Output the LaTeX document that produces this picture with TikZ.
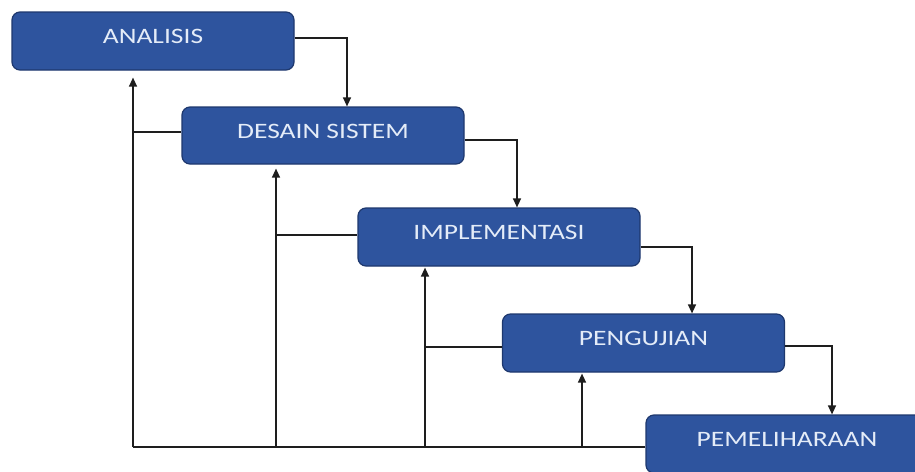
\documentclass[tikz,border=0pt]{standalone}
\usepackage{fontspec}
\newfontfamily\boxfont[FakeStretch=1.25]{Carlito}
\usetikzlibrary{arrows.meta}
\definecolor{boxfill}{RGB}{46,84,158}
\definecolor{boxdraw}{RGB}{30,56,110}
\definecolor{boxtext}{RGB}{228,236,248}
\definecolor{linecol}{RGB}{30,30,30}
\tikzset{
  stage/.style={draw=boxdraw, line width=1.2pt, fill=boxfill, rounded corners=8pt,
    minimum width=282pt, minimum height=58pt, inner sep=0pt,
    text height=15pt, text depth=10pt,
    font=\boxfont\fontsize{22}{24}\selectfont, text=boxtext},
  conn/.style={draw=linecol, line width=1.3pt},
  arr/.style={conn, -{Triangle[width=8pt,length=9pt]}}
}
\begin{document}
\begin{tikzpicture}[x=1pt,y=-1pt]
\useasboundingbox (0,0) rectangle (915,471);
\clip (0,0) rectangle (915,471);
\fill[white] (0,0) rectangle (915,471);
\node[stage] (A) at (153,41) {ANALISIS};
\node[stage, minimum height=57pt] (D) at (323,135.5) {DESAIN SISTEM};
\node[stage] (I) at (499,237) {IMPLEMENTASI};
\node[stage] (P) at (643.5,343) {PENGUJIAN};
\node[stage] (M) at (787,444) {PEMELIHARAAN};
% forward arrows
\draw[arr] ([yshift=3pt]A.east) -| ([xshift=24pt]D.north);
\draw[arr] ([yshift=-4.5pt]D.east) -| ([xshift=18pt]I.north);
\draw[arr] ([yshift=-10pt]I.east) -| ([xshift=48.5pt]P.north);
\draw[arr] ([yshift=-3pt]P.east) -| ([xshift=45pt]M.north);
% feedback
\coordinate (b1) at (133,447);
\coordinate (b2) at (276,447);
\coordinate (b3) at (425,447);
\coordinate (b4) at (582,447);
\coordinate (mw) at ([yshift=-3pt]M.west);
\coordinate (dw) at ([yshift=3.5pt]D.west);
\coordinate (iw) at ([yshift=2pt]I.west);
\coordinate (pw) at ([yshift=-4pt]P.west);
\draw[conn] (mw) -- (b1);
\draw[arr, shorten >=7pt] (b1) -- (b1 |- A.south);
\draw[arr, shorten >=4pt] (b2) -- (b2 |- D.south);
\draw[arr, shorten >=1pt] (b3) -- (b3 |- I.south);
\draw[arr, shorten >=1pt] (b4) -- (b4 |- P.south);
\draw[conn] (b1 |- dw) -- (dw);
\draw[conn] (b2 |- iw) -- (iw);
\draw[conn] (b3 |- pw) -- (pw);
\end{tikzpicture}
\end{document}
